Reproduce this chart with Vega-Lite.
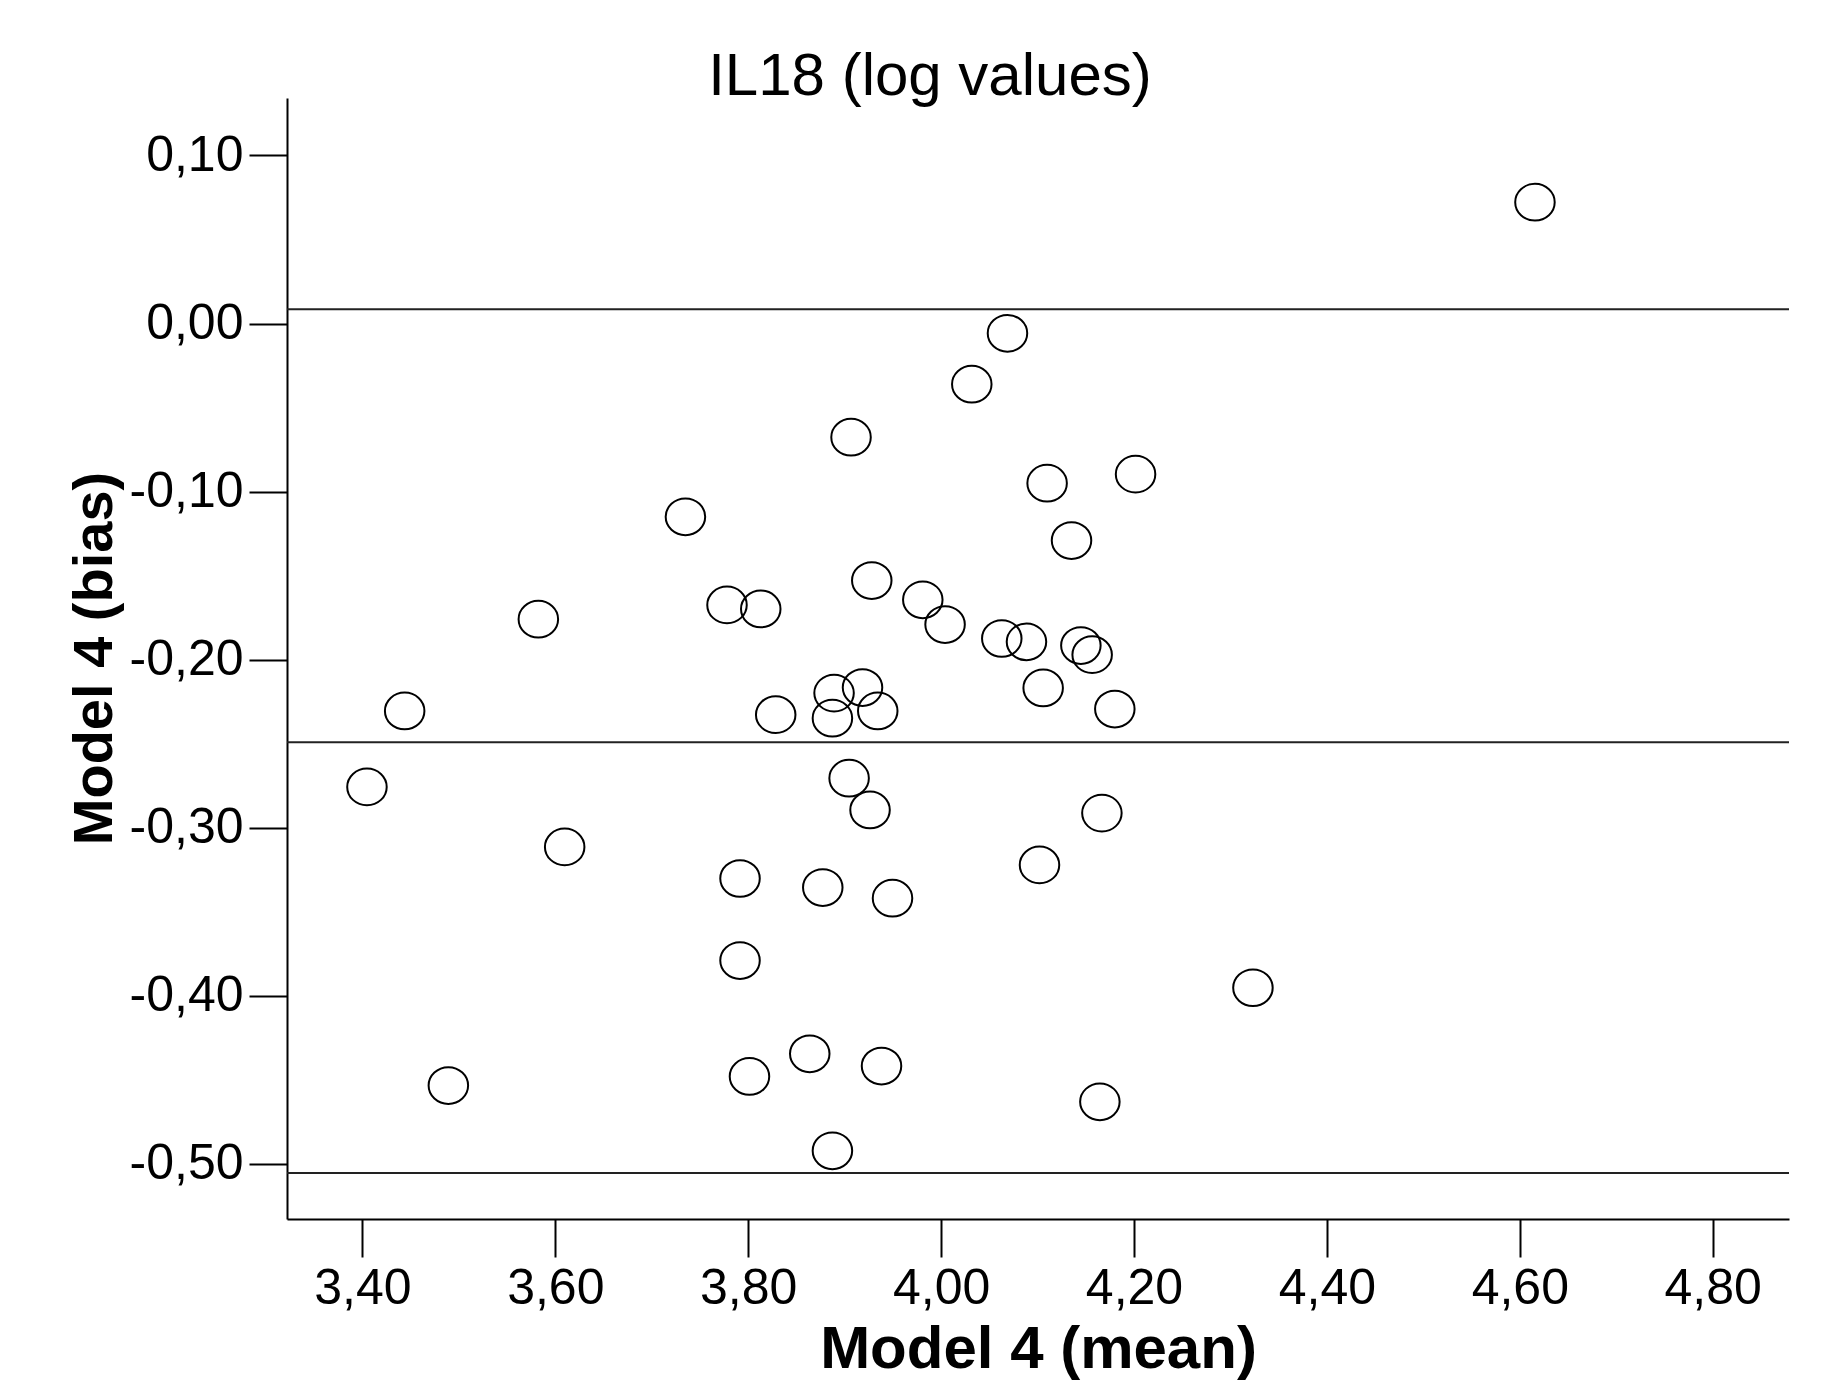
{
  "$schema": "https://vega.github.io/schema/vega-lite/v6.json",
  "autosize": {"type": "none"},
  "padding": {"left": 287, "top": 98, "right": 42, "bottom": 163},
  "width": 1502,
  "height": 1121,
  "background": "white",
  "title": {
    "text": "IL18 (log values)",
    "anchor": "middle",
    "frame": "group",
    "dx": -108,
    "dy": 59,
    "offset": 2,
    "baseline": "alphabetic",
    "font": "Liberation Sans",
    "fontSize": 60,
    "fontWeight": "normal",
    "color": "black"
  },
  "config": {
    "view": {"stroke": null},
    "axis": {
      "domainColor": "black",
      "domainWidth": 2,
      "tickColor": "black",
      "tickWidth": 2,
      "tickSize": 38,
      "grid": false,
      "labelFont": "Liberation Sans",
      "labelFontSize": 50,
      "labelColor": "black",
      "labelFlush": false,
      "labelOverlap": false,
      "titleFont": "Liberation Sans",
      "titleFontWeight": "bold",
      "titleColor": "black"
    }
  },
  "layer": [
    {
      "data": {"values": [{"bias": 0.0085}, {"bias": -0.2491}, {"bias": -0.5055}]},
      "mark": {"type": "rule", "stroke": "#222222", "strokeWidth": 2},
      "encoding": {
        "y": {"field": "bias", "type": "quantitative", "title": "Model 4 (bias)"}
      }
    },
    {
      "data": {
        "values": [
          {"mean": 4.6157, "bias": 0.0722},
          {"mean": 4.0688, "bias": -0.0058},
          {"mean": 4.0318, "bias": -0.0361},
          {"mean": 3.9066, "bias": -0.0676},
          {"mean": 4.1099, "bias": -0.0950},
          {"mean": 4.2016, "bias": -0.0896},
          {"mean": 3.7349, "bias": -0.1150},
          {"mean": 4.1352, "bias": -0.1291},
          {"mean": 3.9281, "bias": -0.1529},
          {"mean": 3.7780, "bias": -0.1674},
          {"mean": 3.8130, "bias": -0.1698},
          {"mean": 3.9810, "bias": -0.1644},
          {"mean": 4.0041, "bias": -0.1791},
          {"mean": 3.5824, "bias": -0.1759},
          {"mean": 4.0629, "bias": -0.1874},
          {"mean": 4.0885, "bias": -0.1894},
          {"mean": 4.1449, "bias": -0.1916},
          {"mean": 4.1566, "bias": -0.1970},
          {"mean": 3.8890, "bias": -0.2199},
          {"mean": 3.9185, "bias": -0.2166},
          {"mean": 4.1058, "bias": -0.2168},
          {"mean": 3.4438, "bias": -0.2305},
          {"mean": 3.8285, "bias": -0.2327},
          {"mean": 3.8873, "bias": -0.2348},
          {"mean": 3.9343, "bias": -0.2305},
          {"mean": 4.1801, "bias": -0.2294},
          {"mean": 3.4047, "bias": -0.2757},
          {"mean": 3.9046, "bias": -0.2705},
          {"mean": 3.9263, "bias": -0.2894},
          {"mean": 4.1667, "bias": -0.2913},
          {"mean": 3.6097, "bias": -0.3114},
          {"mean": 3.7915, "bias": -0.3302},
          {"mean": 3.8773, "bias": -0.3356},
          {"mean": 3.9496, "bias": -0.3419},
          {"mean": 4.1020, "bias": -0.3221},
          {"mean": 3.7915, "bias": -0.3790},
          {"mean": 4.3233, "bias": -0.3952},
          {"mean": 3.4891, "bias": -0.4534},
          {"mean": 3.8013, "bias": -0.4480},
          {"mean": 3.8638, "bias": -0.4345},
          {"mean": 3.9382, "bias": -0.4418},
          {"mean": 4.1646, "bias": -0.4631},
          {"mean": 3.8873, "bias": -0.4922}
        ]
      },
      "mark": {
        "type": "point",
        "shape": "M -1 0 A 1 0.93 0 1 1 1 0 A 1 0.93 0 1 1 -1 0 Z",
        "filled": false,
        "stroke": "black",
        "strokeWidth": 2,
        "size": 1560,
        "opacity": 1
      },
      "encoding": {
        "x": {
          "field": "mean",
          "type": "quantitative",
          "title": "Model 4 (mean)",
          "scale": {"domain": [3.3218, 4.8791], "nice": false, "zero": false},
          "axis": {
            "values": [3.4, 3.6, 3.8, 4.0, 4.2, 4.4, 4.6, 4.8],
            "labelExpr": "replace(format(datum.value, '.2f'), '.', ',')",
            "labelPadding": 6,
            "titleFontSize": 60,
            "titleY": 148,
            "titleBaseline": "alphabetic"
          }
        },
        "y": {
          "field": "bias",
          "type": "quantitative",
          "title": "Model 4 (bias)",
          "scale": {"domain": [-0.5328, 0.1342], "nice": false, "zero": false},
          "axis": {
            "values": [-0.5, -0.4, -0.3, -0.2, -0.1, 0, 0.1],
            "labelExpr": "(datum.value < -0.000001 ? '-' : '') + replace(format(abs(datum.value), '.2f'), '.', ',')",
            "labelPadding": 6,
            "titleFontSize": 56,
            "titleX": -176,
            "titleY": 560,
            "titleAngle": 270,
            "titleAlign": "center",
            "titleBaseline": "alphabetic"
          }
        }
      }
    }
  ]
}
